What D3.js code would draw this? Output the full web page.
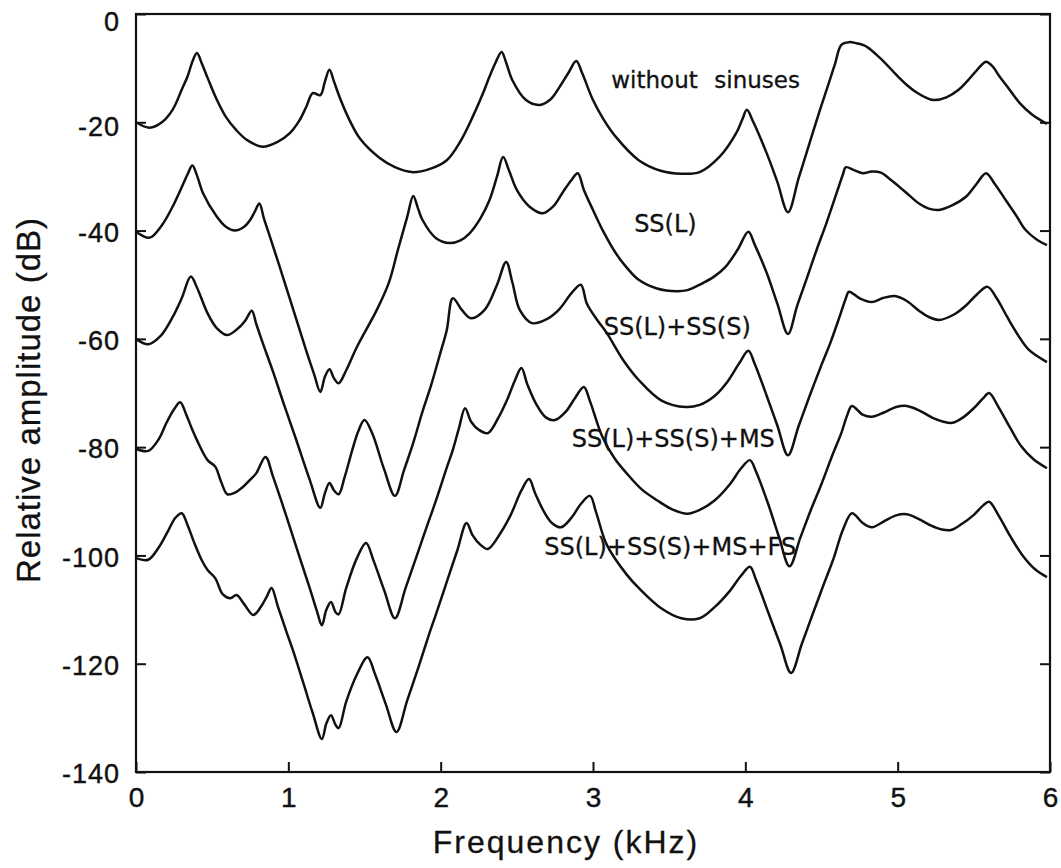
<!DOCTYPE html>
<html>
<head>
<meta charset="utf-8">
<script src="https://cdn.jsdelivr.net/npm/d3@7"></script>
<style>
  html, body { margin: 0; padding: 0; background: #fff; }
  svg { display: block; }
</style>
</head>
<body>
<svg id="chart" width="1061" height="868"></svg>
<script>
// ---------------- data (frequency kHz, relative amplitude dB) ----------------
const xTicks = [0, 1, 2, 3, 4, 5, 6];
const yTicks = [0, -20, -40, -60, -80, -100, -120, -140];

const seriesNames = ["without sinuses", "SS(L)", "SS(L)+SS(S)", "SS(L)+SS(S)+MS", "SS(L)+SS(S)+MS+FS"];

const withoutSinuses = [
  [0,-20],[0.09,-21],[0.17,-20],[0.24,-17.7],[0.30,-14],[0.34,-11.4],[0.37,-8.8],[0.40,-7.2],[0.43,-9],
  [0.47,-11.8],[0.53,-15.8],[0.59,-19],[0.66,-21.5],[0.73,-23.3],[0.83,-24.5],[0.93,-23.6],[1.01,-22],
  [1.07,-19.8],[1.12,-17],[1.16,-14.6],[1.21,-15],[1.24,-12.5],[1.27,-10.3],[1.30,-12.5],[1.34,-15.6],
  [1.40,-19.5],[1.47,-23],[1.60,-26.6],[1.70,-28.3],[1.81,-29.2],[1.93,-28.6],[2.04,-27],[2.13,-23.5],
  [2.21,-19],[2.28,-14.5],[2.32,-11.6],[2.36,-9],[2.40,-7],[2.43,-9],[2.47,-12.2],[2.56,-15.9],[2.65,-16.8],
  [2.72,-15.8],[2.78,-13.5],[2.84,-10.8],[2.89,-8.7],[2.93,-11],[3.00,-15.9],[3.07,-19.5],[3.15,-22.7],
  [3.30,-27],[3.45,-29],[3.58,-29.5],[3.70,-29.2],[3.83,-26.4],[3.94,-22],[3.98,-19.5],[4.01,-17.7],
  [4.05,-19.8],[4.14,-25.7],[4.21,-31],[4.28,-36.6],[4.35,-30.3],[4.42,-24],[4.49,-17.7],[4.55,-12.6],
  [4.59,-9.1],[4.63,-5.7],[4.68,-5.2],[4.73,-5.4],[4.78,-5.8],[4.81,-6.3],[4.86,-7.5],[4.92,-9.1],
  [4.99,-11.2],[5.06,-13.1],[5.13,-14.6],[5.19,-15.5],[5.24,-15.9],[5.32,-15.4],[5.40,-14],[5.46,-12.3],
  [5.51,-10.7],[5.58,-8.8],[5.62,-9.6],[5.67,-11.6],[5.73,-13.8],[5.80,-16.4],[5.88,-18.5],[5.98,-20.3]
];

const ssL = [
  [0,-40.2],[0.09,-41.3],[0.17,-39],[0.24,-35.6],[0.30,-32],[0.34,-29.5],[0.37,-28],[0.40,-29.8],[0.44,-33.1],
  [0.53,-37.4],[0.59,-39.3],[0.65,-40],[0.71,-39.3],[0.75,-38],[0.78,-36.5],[0.81,-35],[0.84,-37.8],[0.88,-41.2],
  [0.94,-46.4],[1.01,-52.6],[1.12,-62.4],[1.17,-66.6],[1.21,-69.8],[1.24,-67],[1.27,-65.6],[1.30,-67.3],
  [1.33,-68.2],[1.38,-65.8],[1.45,-61.5],[1.58,-54.7],[1.66,-49.6],[1.72,-43.5],[1.78,-37.5],[1.82,-33.6],
  [1.85,-35.8],[1.88,-38],[1.97,-41.4],[2.06,-42.3],[2.13,-41.8],[2.19,-40.5],[2.26,-37.8],[2.32,-34.4],
  [2.37,-30],[2.41,-26.4],[2.45,-29],[2.50,-32.5],[2.58,-35.5],[2.67,-36.8],[2.74,-35.5],[2.80,-33],
  [2.86,-30.6],[2.90,-29.4],[2.94,-32.5],[3.00,-36.2],[3.07,-40.3],[3.15,-44.2],[3.22,-46.8],[3.30,-49.1],
  [3.42,-50.7],[3.55,-51.2],[3.62,-51],[3.70,-50],[3.79,-48.6],[3.87,-46.7],[3.95,-43.5],[4.02,-40.2],
  [4.06,-42.5],[4.14,-47.8],[4.21,-53.5],[4.28,-59.1],[4.34,-53.9],[4.40,-49.1],[4.47,-43.4],[4.53,-38.8],
  [4.60,-33],[4.64,-29.7],[4.66,-28.3],[4.71,-28.8],[4.77,-29.4],[4.83,-29.1],[4.89,-29.3],[4.95,-30.5],
  [5.01,-31.9],[5.08,-33.6],[5.14,-35],[5.20,-35.9],[5.27,-36.2],[5.36,-35.3],[5.45,-33.7],[5.52,-31.3],
  [5.58,-29.4],[5.64,-31.5],[5.71,-34.4],[5.78,-37.3],[5.84,-39.9],[5.91,-41.6],[5.98,-42.7]
];

const ssLssS = [
  [0,-60],[0.08,-61],[0.16,-59.5],[0.24,-56],[0.30,-52.5],[0.36,-48.5],[0.40,-50.5],[0.47,-55.3],[0.53,-58],
  [0.60,-59.3],[0.68,-57.8],[0.72,-56.5],[0.76,-54.8],[0.79,-57.3],[0.83,-60.6],[0.90,-66.1],[0.97,-72],
  [1.05,-78.5],[1.14,-86],[1.21,-91.2],[1.24,-88.5],[1.27,-86.6],[1.30,-88],[1.33,-88.7],[1.37,-85.5],
  [1.42,-80.5],[1.46,-77],[1.50,-75],[1.55,-77.4],[1.63,-84.2],[1.70,-89],[1.76,-84.2],[1.82,-79.2],
  [1.88,-73.5],[1.94,-68.3],[2.00,-62.4],[2.04,-58.4],[2.08,-52.5],[2.14,-54.7],[2.20,-56.2],[2.29,-54.6],[2.37,-50],
  [2.43,-45.8],[2.47,-49.5],[2.52,-54.7],[2.60,-57.1],[2.70,-56.3],[2.78,-54.5],[2.86,-51.5],[2.92,-50],
  [2.96,-53.5],[3.03,-56.6],[3.09,-58.9],[3.20,-64],[3.30,-67.6],[3.45,-71.4],[3.61,-72.6],[3.70,-72.2],
  [3.80,-70.5],[3.88,-68],[3.96,-64.5],[4.02,-62.2],[4.06,-64.5],[4.14,-70.5],[4.21,-76],[4.28,-81.5],
  [4.35,-76.1],[4.42,-70.7],[4.50,-64.8],[4.56,-60.6],[4.62,-55.8],[4.66,-52.5],[4.68,-51.3],[4.75,-52.5],
  [4.83,-53.2],[4.90,-52.5],[4.98,-52.1],[5.06,-53],[5.14,-54.8],[5.20,-55.9],[5.27,-56.5],[5.37,-55.5],
  [5.45,-53.8],[5.52,-51.8],[5.59,-50.4],[5.65,-52.5],[5.72,-56],[5.79,-59.3],[5.86,-62],[5.98,-64.3]
];

const ssLssSms = [
  [0,-80.3],[0.08,-80.7],[0.15,-78.5],[0.20,-75.5],[0.25,-73],[0.29,-71.7],[0.33,-74],[0.37,-76.8],[0.40,-78.7],
  [0.47,-82.4],[0.52,-83.6],[0.56,-86.5],[0.60,-88.7],[0.65,-88.4],[0.70,-87.4],[0.75,-86],[0.79,-84.8],
  [0.85,-81.8],[0.90,-85.5],[0.99,-93],[1.07,-100],[1.14,-106],[1.19,-110.5],[1.22,-112.9],[1.25,-110],
  [1.28,-108.6],[1.31,-110.5],[1.33,-110.9],[1.38,-106],[1.45,-100.5],[1.51,-97.7],[1.56,-101],[1.63,-106.5],
  [1.70,-111.6],[1.77,-106],[1.84,-100.3],[1.91,-94.6],[1.97,-89.8],[2.04,-83.8],[2.08,-80.5],[2.12,-76.5],
  [2.16,-72.8],[2.20,-75.3],[2.25,-76.8],[2.31,-77.4],[2.38,-74.5],[2.44,-71],[2.49,-67.5],[2.53,-65.4],
  [2.57,-68.5],[2.63,-72.2],[2.69,-74.5],[2.75,-75],[2.82,-73.5],[2.88,-71],[2.94,-68.9],[2.98,-71.5],
  [3.06,-78],[3.14,-82],[3.22,-84.8],[3.32,-87.8],[3.42,-89.8],[3.52,-91.5],[3.62,-92.3],[3.70,-91.6],
  [3.80,-89.8],[3.90,-86.8],[3.97,-84],[4.03,-82.4],[4.07,-84.5],[4.15,-90.5],[4.22,-96.5],[4.29,-102],
  [4.36,-96.8],[4.43,-91.6],[4.50,-86.8],[4.57,-81.6],[4.63,-77.4],[4.67,-74],[4.70,-72.4],[4.77,-74],
  [4.83,-74.4],[4.91,-73.6],[4.99,-72.6],[5.06,-72.4],[5.14,-73.2],[5.23,-74.6],[5.30,-75.3],[5.36,-75.5],
  [5.43,-74.5],[5.50,-72.8],[5.56,-71],[5.60,-70],[5.66,-72.5],[5.74,-76.5],[5.81,-79.8],[5.89,-82.2],[5.98,-83.9]
];

const ssLssSmsFs = [
  [0,-100.5],[0.08,-100.8],[0.15,-98.5],[0.21,-95.5],[0.26,-93],[0.30,-92.2],[0.34,-94.5],[0.38,-97.5],
  [0.43,-100.8],[0.47,-102.7],[0.52,-104.2],[0.57,-107.2],[0.62,-107.9],[0.66,-107.3],[0.71,-109],[0.77,-111],
  [0.82,-109.5],[0.86,-107.5],[0.89,-106],[0.93,-109.3],[0.99,-114.3],[1.03,-117.5],[1.10,-123.7],[1.16,-129.1],
  [1.22,-133.9],[1.25,-131],[1.28,-129.5],[1.31,-131.3],[1.33,-131.9],[1.38,-127],[1.45,-122],[1.52,-118.8],
  [1.57,-122],[1.64,-127.5],[1.71,-132.6],[1.78,-126.8],[1.85,-121],[1.92,-114.9],[1.97,-110.8],[2.04,-104.9],
  [2.11,-99],[2.17,-94],[2.21,-96.3],[2.26,-98],[2.31,-98.8],[2.39,-96],[2.46,-92.5],[2.53,-88],[2.58,-85.9],
  [2.62,-88.5],[2.68,-92],[2.73,-94],[2.79,-94.8],[2.86,-93],[2.92,-90.5],[2.98,-89],[3.02,-92],[3.09,-98],
  [3.22,-103.5],[3.30,-106],[3.45,-109.8],[3.58,-111.6],[3.70,-111.6],[3.80,-109.5],[3.90,-106.5],
  [3.97,-103.8],[4.03,-102.1],[4.07,-104.5],[4.15,-110.5],[4.23,-116.5],[4.30,-121.7],[4.37,-116.4],
  [4.44,-111],[4.51,-105.7],[4.58,-100.5],[4.64,-95.3],[4.70,-92.2],[4.77,-94],[4.83,-94.8],[4.91,-93.7],
  [4.99,-92.6],[5.06,-92.4],[5.14,-93.3],[5.22,-94.5],[5.29,-95.2],[5.35,-95.3],[5.42,-94.2],[5.50,-92.5],
  [5.56,-90.8],[5.60,-90.1],[5.66,-92.5],[5.74,-96.5],[5.82,-100],[5.90,-102.5],[5.98,-104]
];

const allSeries = [withoutSinuses, ssL, ssLssS, ssLssSms, ssLssSmsFs];

// label anchor points (left x in kHz, baseline in dB)
const labelFreq = [3.12, 3.27, 3.07, 2.86, 2.68];
const labelDb   = [-13.7, -40.3, -59.3, -80, -99.9];

// ---------------- drawing ----------------
const svg = d3.select("#chart");
const W = 1061, H = 868;
const L = 136, R = 1050, T = 14, B = 772;

svg.append("rect").attr("width", W).attr("height", H).attr("fill", "#fff");

const x = d3.scaleLinear().domain([0, 6]).range([L, R]);
const y = d3.scaleLinear().domain([-140, 0]).range([B, T]);

const axisFont = "'Liberation Sans', Arial, Helvetica, sans-serif";
const ink = "#111";

// left axis
const gl = svg.append("g").attr("transform", `translate(${L},0)`)
  .call(d3.axisLeft(y).tickValues(yTicks).tickSizeInner(-10).tickSizeOuter(0).tickPadding(16)
        .tickFormat(d => String(d)));
gl.select(".domain").remove();
gl.selectAll(".tick line").attr("stroke", ink).attr("stroke-width", 2);
gl.selectAll(".tick text")
  .attr("font-family", axisFont).attr("font-size", 27).attr("fill", ink)
  .attr("stroke", ink).attr("stroke-width", 0.4)
  .attr("letter-spacing", 1)
  .attr("dy", d => (d === 0 ? "0.62em" : d === -20 ? "0.5em" : "0.4em"));

// right axis (ticks only)
const gr = svg.append("g").attr("transform", `translate(${R},0)`)
  .call(d3.axisRight(y).tickValues(yTicks).tickSizeInner(-10).tickSizeOuter(0).tickFormat(""));
gr.select(".domain").remove();
gr.selectAll(".tick line").attr("stroke", ink).attr("stroke-width", 2);

// bottom axis
const gb = svg.append("g").attr("transform", `translate(0,${B})`)
  .call(d3.axisBottom(x).tickValues(xTicks).tickSizeInner(-10).tickSizeOuter(0).tickPadding(15)
        .tickFormat(d => String(d)));
gb.select(".domain").remove();
gb.selectAll(".tick line").attr("stroke", ink).attr("stroke-width", 2);
gb.selectAll(".tick text")
  .attr("font-family", axisFont).attr("font-size", 28).attr("fill", ink)
  .attr("stroke", ink).attr("stroke-width", 0.4);

// frame
svg.append("rect")
  .attr("x", L).attr("y", T).attr("width", R - L).attr("height", B - T)
  .attr("fill", "none").attr("stroke", ink).attr("stroke-width", 2.2);

// curves
const line = d3.line()
  .x(d => x(d[0]))
  .y(d => y(d[1]))
  .curve(d3.curveCatmullRom.alpha(0.5));

svg.append("g").selectAll("path")
  .data(allSeries)
  .join("path")
  .attr("d", line)
  .attr("fill", "none")
  .attr("stroke", ink)
  .attr("stroke-width", 2.5)
  .attr("stroke-linejoin", "round");

// curve labels
const labelFont = "'DejaVu Sans', Verdana, sans-serif";
seriesNames.forEach((name, i) => {
  const fs = i === 0 ? 23 : 24;
  const add = (tx, txt) => svg.append("text").attr("x", tx).attr("y", y(labelDb[i]))
      .attr("font-family", labelFont).attr("font-size", fs).attr("fill", ink)
      .attr("stroke", ink).attr("stroke-width", 0.3).text(txt);
  if (i === 0) {
    const parts = name.split(" ");
    add(x(labelFreq[i]), parts[0]);
    add(x(labelFreq[i]) + 103, parts[1]);
  } else {
    add(x(labelFreq[i]), name);
  }
});

// axis titles
svg.append("text")
  .attr("x", 566).attr("y", 853)
  .attr("text-anchor", "middle")
  .attr("font-family", axisFont).attr("font-size", 32).attr("letter-spacing", 2).attr("fill", ink)
  .attr("stroke", ink).attr("stroke-width", 0.3)
  .text("Frequency (kHz)");

svg.append("text")
  .attr("transform", "translate(40,400) rotate(-90)")
  .attr("text-anchor", "middle")
  .attr("font-family", axisFont).attr("font-size", 33).attr("letter-spacing", 1).attr("fill", ink)
  .attr("stroke", ink).attr("stroke-width", 0.3)
  .text("Relative amplitude (dB)");
</script>
</body>
</html>
